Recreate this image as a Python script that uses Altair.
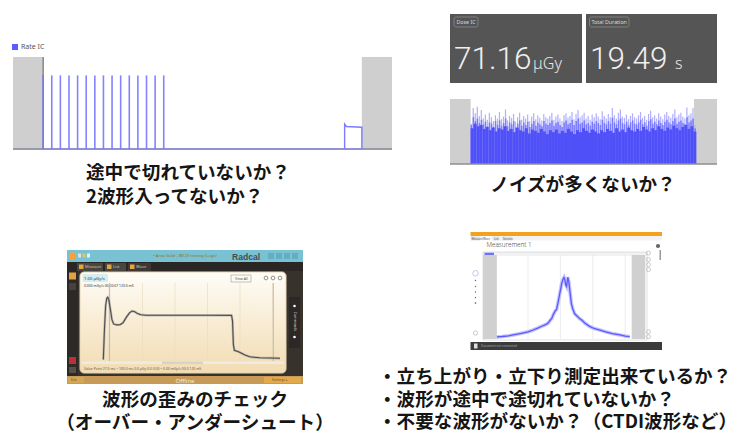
import altair as alt
import pandas as pd

# ---------------------------------------------------------------- data
# A: Rate IC pulse train (time in s, normalised rate)
pulse_t = [3.5, 4.5, 5.5, 6.5, 7.5, 8.5, 9.5, 10.5, 11.5, 12.5, 13.5, 14.5, 15.5, 16.5, 17.5]
pulse_h = [0.805, 0.80, 0.80, 0.80, 0.80, 0.80, 0.80, 0.80, 0.80, 0.80, 0.80, 0.80, 0.80, 0.80, 0.80]
step_t = [38.5, 38.5, 38.7, 40.5, 40.5]
step_h = [0.0, 0.27, 0.245, 0.236, 0.0]
a_outside = [(0.0, 3.5), (40.5, 44.0)]

# B: dose / duration read-out and noisy rate trace
dose_ic = "71.16"
total_duration = "19.49"
b_outside = [(-1.8, 0.0), (19.49, 21.5)]
noise_peak = [0.62, 0.86, 0.78, 0.88, 0.74, 0.83, 0.70, 0.76, 0.68, 0.79, 0.72, 0.66, 0.75, 0.70,
              0.80, 0.69, 0.73, 0.84, 0.67, 0.74, 0.71, 0.77, 0.65, 0.72, 0.79, 0.68, 0.74, 0.70,
              0.76, 0.66, 0.73, 0.78, 0.69, 0.75, 0.71, 0.67, 0.77, 0.72, 0.70, 0.74, 0.79, 0.68,
              0.73, 0.76, 0.70, 0.66, 0.75, 0.78, 0.71, 0.74, 0.80, 0.69, 0.77, 0.83, 0.72, 0.75,
              0.79, 0.70, 0.74, 0.68, 0.76, 0.72, 0.78, 0.73, 0.69, 0.81, 0.74, 0.70, 0.77, 0.72,
              0.86, 0.75, 0.70, 0.79, 0.84, 0.73, 0.71, 0.76, 0.69, 0.74, 0.78, 0.72, 0.70, 0.75,
              0.80, 0.71, 0.74, 0.68, 0.77, 0.82, 0.72, 0.75, 0.70, 0.78, 0.73, 0.69, 0.76, 0.80,
              0.74, 0.71, 0.77, 0.84, 0.72, 0.76, 0.79, 0.73, 0.70, 0.87, 0.75, 0.78, 0.86, 0.60]
noise_mid = [0.60, 0.72, 0.66, 0.70, 0.63, 0.68, 0.61, 0.65, 0.58, 0.64, 0.62, 0.57, 0.66, 0.60,
             0.67, 0.59, 0.63, 0.70, 0.58, 0.64, 0.61, 0.66, 0.56, 0.62, 0.67, 0.59, 0.64, 0.60,
             0.65, 0.57, 0.62, 0.66, 0.59, 0.64, 0.61, 0.58, 0.66, 0.62, 0.60, 0.63, 0.67, 0.59,
             0.63, 0.65, 0.60, 0.57, 0.64, 0.67, 0.61, 0.63, 0.68, 0.60, 0.66, 0.70, 0.62, 0.64,
             0.67, 0.61, 0.63, 0.59, 0.65, 0.62, 0.66, 0.63, 0.60, 0.68, 0.63, 0.61, 0.66, 0.62,
             0.71, 0.64, 0.61, 0.67, 0.70, 0.63, 0.61, 0.65, 0.60, 0.64, 0.67, 0.62, 0.61, 0.64,
             0.68, 0.61, 0.64, 0.59, 0.66, 0.69, 0.62, 0.65, 0.61, 0.67, 0.63, 0.60, 0.65, 0.68,
             0.64, 0.61, 0.66, 0.70, 0.62, 0.65, 0.67, 0.63, 0.61, 0.72, 0.64, 0.67, 0.70, 0.55]
noise_base = [0.55, 0.62, 0.58, 0.60, 0.54, 0.57, 0.52, 0.56, 0.50, 0.55, 0.53, 0.58, 0.51, 0.54,
              0.49, 0.56, 0.52, 0.50, 0.55, 0.47, 0.53, 0.51, 0.48, 0.54, 0.50, 0.46, 0.52, 0.49,
              0.53, 0.47, 0.51, 0.48, 0.54, 0.50, 0.46, 0.52, 0.49, 0.55, 0.51, 0.48, 0.53, 0.50,
              0.47, 0.52, 0.49, 0.54, 0.51, 0.48, 0.55, 0.50, 0.53, 0.49, 0.56, 0.52, 0.50, 0.54,
              0.51, 0.57, 0.53, 0.50, 0.55, 0.52, 0.58, 0.54, 0.51, 0.56, 0.53, 0.59, 0.55, 0.52,
              0.57, 0.60, 0.54, 0.58, 0.50]
noise_span = 19.7

# C: single exposure waveform (ms, normalised rate)
wave_t = [15.9, 16.5, 17.3, 18.0, 18.6, 19.3, 20.2, 21.2, 22.2, 24.0, 26.2, 28.0, 30.0, 32.0,
          33.6, 35.2, 37.0, 39.0, 42.0, 60.0, 80.0, 94.8, 95.4, 95.9, 96.5, 99.0, 101.0, 103.0,
          106.0, 112.0, 124.6]
wave_r = [0.0, 0.35, 0.70, 0.80, 0.813, 0.78, 0.66, 0.52, 0.465, 0.452, 0.455, 0.48, 0.55, 0.61,
          0.634, 0.625, 0.60, 0.585, 0.578, 0.578, 0.578, 0.577, 0.50, 0.20, 0.12, 0.102, 0.08,
          0.059, 0.035, 0.022, 0.016]
wave_grid = [20, 40, 60, 80, 100, 120]
wave_cursor = [19.6, 120.5]

# D: CT dose profile (position in mm, normalised rate)
prof_x = [-98, -90, -80, -73, -60, -50, -42, -35, -28, -22, -19, -16, -13, -11, -8, -6, -4, -2,
          0, 2, 4, 5.6, 7, 8.5, 9.5, 10.5, 11.3, 13, 15, 17, 19, 22, 26, 30, 33, 38, 45, 52, 61,
          70, 80, 92, 100, 107]
prof_y = [0.025, 0.03, 0.038, 0.048, 0.068, 0.085, 0.107, 0.13, 0.155, 0.175, 0.19, 0.22, 0.25,
          0.29, 0.335, 0.35, 0.42, 0.50, 0.58, 0.66, 0.71, 0.732, 0.70, 0.64, 0.625, 0.68, 0.735,
          0.68, 0.55, 0.42, 0.36, 0.30, 0.27, 0.24, 0.225, 0.187, 0.15, 0.125, 0.107, 0.085,
          0.065, 0.048, 0.035, 0.027]
prof_grid = [-50, 0, 50, 100]
d_outside = [(-119.4, -98.0), (110.0, 131.0)]

# captions
cap_tl = ["途中で切れていないか？", "2波形入ってないか？"]
cap_tr = ["ノイズが多くないか？"]
cap_bl = ["波形の歪みのチェック", "（オーバー・アンダーシュート）"]
cap_br = ["・立ち上がり・立下り測定出来ているか？", "・波形が途中で途切れていないか？",
          "・不要な波形がないか？（CTDI波形など）"]

# ---------------------------------------------------------------- helpers
W, H = 749, 433
JP = "Noto Sans CJK JP"
UI = "Noto Sans"
BIG = "Roboto"
ONE = pd.DataFrame({"k": [0]})


def lin(domain, rng):
    return alt.Scale(domain=domain, range=rng, nice=False, zero=False)


PX = lin([0, W], [0, W])
PY = lin([0, H], [0, H])


def px_rects(rows, **kw):
    df = pd.DataFrame(rows, columns=["x", "y", "x2", "y2", "fill"])
    return alt.Chart(df).mark_rect(**kw).encode(
        x=alt.X("x:Q", scale=PX, axis=None), x2="x2:Q",
        y=alt.Y("y:Q", scale=PY, axis=None), y2="y2:Q",
        color=alt.Color("fill:N", scale=None))


def px_boxes(rows, stroke, **kw):
    df = pd.DataFrame(rows, columns=["x", "y", "x2", "y2"])
    return alt.Chart(df).mark_rect(fillOpacity=0, stroke=stroke, **kw).encode(
        x=alt.X("x:Q", scale=PX, axis=None), x2="x2:Q",
        y=alt.Y("y:Q", scale=PY, axis=None), y2="y2:Q")


def px_text(rows, **kw):
    df = pd.DataFrame(rows, columns=["x", "y", "text", "size", "color"])
    return alt.Chart(df).mark_text(**kw).encode(
        x=alt.X("x:Q", scale=PX, axis=None), y=alt.Y("y:Q", scale=PY, axis=None),
        text="text:N", size=alt.Size("size:Q", scale=None),
        color=alt.Color("color:N", scale=None))


def px_dots(rows, **kw):
    df = pd.DataFrame(rows, columns=["x", "y", "size"])
    return alt.Chart(df).mark_point(**kw).encode(
        x=alt.X("x:Q", scale=PX, axis=None), y=alt.Y("y:Q", scale=PY, axis=None),
        size=alt.Size("size:Q", scale=None))


def spans(pairs, xs, ys, y_lo, y_hi, color):
    df = pd.DataFrame(pairs, columns=["a", "b"])
    return alt.Chart(df).mark_rect(color=color).encode(
        x=alt.X("a:Q", scale=xs, axis=None), x2="b:Q",
        y=alt.Y(datum=y_lo, scale=ys, axis=None), y2=alt.Y2(datum=y_hi))


def noise_bars(values, xs, ys, color, fill_frac):
    n = len(values)
    dt = noise_span / n
    df = pd.DataFrame({"a": [i * dt for i in range(n)],
                       "b": [i * dt + dt * fill_frac for i in range(n)],
                       "v": values, "z": 0.0})
    return alt.Chart(df).mark_rect(color=color).encode(
        x=alt.X("a:Q", scale=xs, axis=None), x2="b:Q",
        y=alt.Y("z:Q", scale=ys, axis=None), y2="v:Q")


layers = []

# ---------------------------------------------------------------- A: Rate IC
xa, ya = lin([0, 44], [13, 392]), lin([0, 1], [149, 57])
layers.append(px_rects([(12, 44, 18, 50, "#5b5bff")]))
layers.append(px_text([(21, 47, "Rate IC", 7, "#555555")], align="left", baseline="middle", font=UI))
layers.append(spans(a_outside, xa, ya, 0, 1, "#cfcfcf"))
layers.append(alt.Chart(ONE).mark_rule(color="#9a9aa6", strokeWidth=2).encode(
    x=alt.X(datum=0, scale=xa, axis=None), x2=alt.X2(datum=44),
    y=alt.Y(datum=0, scale=ya, axis=None)))
layers.append(alt.Chart(ONE).mark_rule(color="#595959", strokeWidth=1).encode(
    x=alt.X(datum=3.5, scale=xa, axis=None),
    y=alt.Y(datum=0, scale=ya, axis=None), y2=alt.Y2(datum=1)))
layers.append(alt.Chart(ONE).mark_rule(color="#8a8aff", strokeWidth=1).encode(
    x=alt.X(datum=3.5, scale=xa, axis=None), x2=alt.X2(datum=40.5),
    y=alt.Y(datum=0, scale=ya, axis=None)))
pulses = pd.DataFrame({"t": pulse_t, "h": pulse_h, "z": 0.0})
layers.append(alt.Chart(pulses).mark_rule(color="#7676ff", strokeWidth=1.6, opacity=0.9).encode(
    x=alt.X("t:Q", scale=xa, axis=None), y=alt.Y("z:Q", scale=ya, axis=None), y2="h:Q"))
step = pd.DataFrame({"t": step_t, "h": step_h, "i": range(len(step_t))})
layers.append(alt.Chart(step).mark_line(color="#7b7bff", strokeWidth=1.4).encode(
    x=alt.X("t:Q", scale=xa, axis=None), y=alt.Y("h:Q", scale=ya, axis=None), order="i:Q"))

# ---------------------------------------------------------------- B: read-out cards + noise
layers.append(px_rects([(450, 14, 582, 83, "#555555"), (586, 14, 717, 83, "#555555")]))
layers.append(px_boxes([(454, 17, 478, 27), (589.5, 17, 629, 27)], "#8c8c8c",
                       cornerRadius=2, strokeWidth=0.8))
layers.append(px_text([(456.5, 22.3, "Dose IC", 5.3, "#d8d8d8"),
                       (591.5, 22.3, "Total Duration", 5.3, "#d8d8d8")],
                      align="left", baseline="middle", font=UI))
layers.append(px_text([(454, 68.5, dose_ic, 31.5, "#efefef"),
                       (590, 68.5, total_duration, 31.5, "#efefef")],
                      align="left", baseline="alphabetic", font=BIG, fontWeight=300))
layers.append(px_text([(533, 68.5, "μGy", 16, "#e6e6e6"), (675, 68.5, "s", 16, "#e6e6e6")],
                      align="left", baseline="alphabetic", font=UI, fontWeight=300))

xb, yb = lin([-1.8, 21.5], [450, 717]), lin([0, 1], [164, 99])
layers.append(spans(b_outside, xb, yb, 0, 1, "#cfcfcf"))
layers.append(noise_bars(noise_peak, xb, yb, "#b0b0ff", 0.6))
layers.append(noise_bars(noise_mid, xb, yb, "#7a7aff", 0.75))
layers.append(noise_bars(noise_base, xb, yb, "#5050f8", 1.0))
layers.append(alt.Chart(ONE).mark_rule(color="#8e8e8e", strokeWidth=1.5).encode(
    x=alt.X(datum=-1.8, scale=xb, axis=None), x2=alt.X2(datum=21.5),
    y=alt.Y(datum=0, scale=yb, axis=None)))

# ---------------------------------------------------------------- C: Radcal application window
layers.append(px_rects([
    (67, 250, 303, 384, "#38322d"),
    (67, 250, 303, 262, "#79c2d4"),
    (78, 253.5, 81, 257.5, "#cfe6ee"), (82.5, 253.5, 85.5, 257.5, "#e8c35a"),
    (87, 253.5, 90, 257.5, "#e6f0f4"),
    (268, 253, 274, 259, "#62aec3"), (276, 253, 282, 259, "#62aec3"),
    (284, 253, 290, 259, "#62aec3"), (292, 253, 298, 259, "#62aec3"),
    (67, 262, 303, 271, "#2a2623"),
    (77, 263, 103, 271, "#4b4540"), (105, 263, 126, 271, "#4b4540"), (128, 263, 151, 271, "#3d3834"),
    (79, 264.5, 83.5, 269, "#e4a43e"), (107, 264.5, 111.5, 269, "#e4a43e"),
    (130, 264.5, 134.5, 269, "#e4a43e"),
    (67, 271, 78, 376, "#2d2926"),
    (69, 272.5, 76, 279.5, "#e2a23e"), (69, 283, 76, 290, "#48423d"),
    (69, 357, 76, 364, "#b8323a"), (69, 367, 76, 373, "#56504b"),
    (289, 297, 300, 348, "#2c2825"),
    (67, 376, 303, 384, "#c79a58"),
    (68, 377, 84, 383, "#d6a752"), (264, 377, 301, 383, "#e3aa4a"),
]))
panel_fill = alt.Gradient(gradient="linear", x1=0, x2=0, y1=0, y2=1,
                          stops=[alt.GradientStop(color="#fffdf8", offset=0),
                                 alt.GradientStop(color="#f8ecd4", offset=0.5),
                                 alt.GradientStop(color="#f2dcb2", offset=1)])
layers.append(alt.Chart(pd.DataFrame({"x": [80], "y": [272], "x2": [286], "y2": [373]}))
              .mark_rect(fill=panel_fill, stroke="#e6d6b8", cornerRadius=4).encode(
    x=alt.X("x:Q", scale=PX, axis=None), x2="x2:Q",
    y=alt.Y("y:Q", scale=PY, axis=None), y2="y2:Q"))
layers.append(px_rects([(82.5, 274, 108, 282, "#d6eef2"),
                        (82, 361.5, 284, 364, "#efebe3"), (162, 361.5, 203, 364, "#d6d3cc")]))
layers.append(px_boxes([(231, 275, 251, 282)], "#9a9a9a", strokeWidth=0.6))
layers.append(px_dots([(266, 278, 14), (273, 278, 14), (280, 278, 14)],
                      color="#666666", strokeWidth=1, filled=False))
layers.append(px_dots([(72.5, 256, 55)], color="#f2a43a", filled=True, opacity=1))
layers.append(px_dots([(294.5, 306, 7), (294.5, 337, 7)], color="#ffffff", filled=True, opacity=1))
layers.append(px_text([
    (185, 256.2, "• Area Gold - IM-IV testing (Logs)", 4.2, "#9a6a2a"),
    (185, 380.6, "Offline", 6, "#f6e8cc"),
], align="center", baseline="middle", font=UI))
layers.append(px_text([(232, 256.6, "Radcal", 8.6, "#4b4b4b")],
                      align="left", baseline="middle", font="Liberation Sans", fontWeight="bold"))
layers.append(px_text([
    (85, 267, "Measure", 4, "#c8c0b8"), (113, 267, "List", 4, "#c8c0b8"),
    (136, 267, "Wave", 4, "#c8c0b8"),
    (84, 278.5, "1.00 μGy/s", 4.2, "#333333"),
    (235, 278.6, "View All", 3.6, "#555555"),
    (84, 286.3, "0.000 mGy/s  00:00:07  120.0 mS", 3.4, "#333333"),
    (84, 369.3, "Value Point    27.0 ms ~ 100.0 ms    0.0 μGy  0.0 0.00 ~ 0.00 mGy/s  00.0  120 mS",
     3.4, "#6b5a40"),
    (71, 380.4, "Exit", 3.4, "#7a5520"), (272, 380.4, "Settings ▸", 3.4, "#7a5520"),
], align="left", baseline="middle", font=UI))
layers.append(alt.Chart(pd.DataFrame({"x": [294.5], "y": [321.5], "t": ["Commands"]}))
              .mark_text(angle=90, fontSize=3.6, color="#cccccc", font=UI).encode(
    x=alt.X("x:Q", scale=PX, axis=None), y=alt.Y("y:Q", scale=PY, axis=None), text="t:N"))

xc, yc = lin([0, 127], [77.5, 283.9]), lin([-0.02, 1.0], [361, 283])
gc = pd.DataFrame({"g": wave_grid})
layers.append(alt.Chart(gc).mark_rule(color="#eadcc2", strokeWidth=0.7).encode(
    x=alt.X("g:Q", scale=xc, axis=None),
    y=alt.Y(datum=-0.02, scale=yc, axis=None), y2=alt.Y2(datum=1.0)))
cc = pd.DataFrame({"c": wave_cursor})
layers.append(alt.Chart(cc).mark_rule(color="#b9b4ac", strokeWidth=0.9).encode(
    x=alt.X("c:Q", scale=xc, axis=None),
    y=alt.Y(datum=-0.02, scale=yc, axis=None), y2=alt.Y2(datum=1.0)))
wc = pd.DataFrame({"t": wave_t, "r": wave_r})
layers.append(alt.Chart(wc).mark_line(color="#9a9a9a", strokeWidth=2.4, opacity=0.6).encode(
    x=alt.X("t:Q", scale=xc, axis=None), y=alt.Y("r:Q", scale=yc, axis=None)))
layers.append(alt.Chart(wc).mark_line(color="#4e4e4e", strokeWidth=1.1).encode(
    x=alt.X("t:Q", scale=xc, axis=None), y=alt.Y("r:Q", scale=yc, axis=None)))

# ---------------------------------------------------------------- D: CT profile window
layers.append(px_rects([
    (470.5, 232, 662, 236, "#f2a21e"),
    (470.5, 236, 662, 240.5, "#f3f3f3"),
    (471, 236.5, 480, 240.5, "#e4e4e4"), (482, 236.5, 491, 240.5, "#ffffff"),
    (493, 236.5, 500, 240.5, "#e4e4e4"), (502, 236.5, 512, 240.5, "#e4e4e4"),
    (483, 252, 647, 256, "#f2f2f2"),
    (484.5, 252.6, 494, 255.4, "#7070ff"),
    (470.5, 342, 662, 350, "#3b3b3b"),
    (474, 343.5, 477.5, 348.5, "#dddddd"),
    (659.5, 250, 661, 260, "#9a9a9a"),
]))
layers.append(px_boxes([(483, 252, 647, 340)], "#d4d4d4", strokeWidth=0.7))
layers.append(px_text([
    (486.5, 245.3, "Measurement 1", 6.3, "#4a4a4a"),
], align="left", baseline="middle", font=UI, fontWeight=300))
layers.append(px_text([
    (471.5, 238.6, "Measure", 2.8, "#555555"), (483, 238.6, "Wave", 2.8, "#555555"),
    (494, 238.6, "List", 2.8, "#555555"), (503, 238.6, "Session", 2.8, "#555555"),
    (481, 346, "Document not connected", 3, "#aaaaaa"),
], align="left", baseline="middle", font=UI))

xd, yd = lin([-119.4, 133.6], [483, 647]), lin([0, 1], [339, 255])
layers.append(spans(d_outside, xd, yd, 0, 1, "#d0d0d0"))
gd = pd.DataFrame({"g": prof_grid})
layers.append(alt.Chart(gd).mark_rule(color="#e4e4e4", strokeWidth=0.7).encode(
    x=alt.X("g:Q", scale=xd, axis=None),
    y=alt.Y(datum=0, scale=yd, axis=None), y2=alt.Y2(datum=1)))
pd_ = pd.DataFrame({"p": prof_x, "v": prof_y})
layers.append(alt.Chart(pd_).mark_line(color="#b4b4ff", strokeWidth=3.6, opacity=0.8).encode(
    x=alt.X("p:Q", scale=xd, axis=None), y=alt.Y("v:Q", scale=yd, axis=None)))
layers.append(alt.Chart(pd_).mark_line(color="#5a5aff", strokeWidth=1.3).encode(
    x=alt.X("p:Q", scale=xd, axis=None), y=alt.Y("v:Q", scale=yd, axis=None)))
layers.append(px_dots([(648.5, 253, 16), (648.5, 259.5, 16), (648.5, 264.7, 16), (648.5, 269.7, 16),
                       (648.5, 331.7, 16), (648.5, 336.7, 16), (475.5, 333, 18)],
                      color="#9a9a9a", strokeWidth=0.7, filled=False))
layers.append(px_dots([(475.5, 273.3, 30)], color="#8aa8d8", strokeWidth=0.8, filled=False))
layers.append(px_dots([(475.5, 280.5, 2), (475.5, 286.5, 2), (475.5, 292, 2), (475.5, 297.5, 2),
                       (475.5, 303, 3), (658, 246, 18)],
                      color="#666666", filled=True, opacity=1))

# ---------------------------------------------------------------- captions
cap_style = dict(baseline="middle", font=JP, fontWeight="bold", fontSize=18.6, color="#151515")


def captions(lines, x, ys, align):
    df = pd.DataFrame({"t": lines, "x": [x] * len(lines), "y": ys})
    return alt.Chart(df).mark_text(align=align, **cap_style).encode(
        x=alt.X("x:Q", scale=PX, axis=None), y=alt.Y("y:Q", scale=PY, axis=None), text="t:N")


layers.append(captions(cap_tl, 86, [173, 197], "left"))
layers.append(captions(cap_tr, 583, [185], "center"))
layers.append(captions(cap_bl, 195, [400, 422.5], "center"))
layers.append(captions(cap_br, 378, [376.5, 399.5, 422], "left"))

chart = (
    alt.layer(*layers)
    .resolve_scale(x="independent", y="independent")
    .properties(width=W, height=H, autosize=alt.AutoSizeParams(type="none"), padding=0,
                background="#ffffff")
    .configure_view(stroke=None)
)

chart.save("out.html", embed_options={"renderer": "svg", "actions": False})
